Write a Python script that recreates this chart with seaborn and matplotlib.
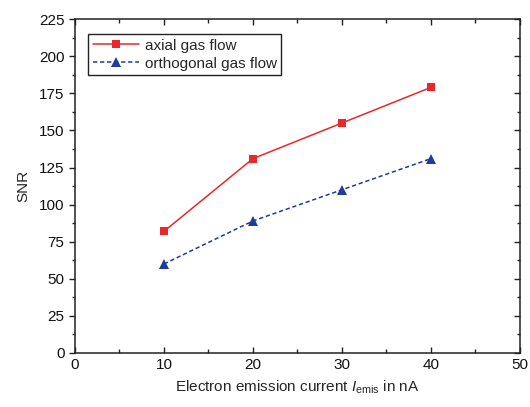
import pandas as pd
import matplotlib
matplotlib.use('Agg')
import matplotlib.pyplot as plt
import seaborn as sns
from matplotlib.ticker import MultipleLocator

# --- data ---
current_na = [10, 20, 30, 40]
snr_axial = [82, 131, 155, 179]
snr_orthogonal = [60, 89, 110, 131]
series_names = ['axial gas flow', 'orthogonal gas flow']

df = pd.DataFrame({
    'current': current_na * 2,
    'snr': snr_axial + snr_orthogonal,
    'flow': [series_names[0]] * len(current_na) + [series_names[1]] * len(current_na),
})

sns.set_style('ticks')
plt.rcParams['font.family'] = ['Liberation Sans', 'DejaVu Sans']
plt.rcParams['mathtext.fontset'] = 'custom'
plt.rcParams['mathtext.rm'] = 'Liberation Sans'
plt.rcParams['mathtext.it'] = 'Liberation Sans:italic'
plt.rcParams['font.size'] = 11

fig = plt.figure(figsize=(5.3, 4.07), dpi=100)
ax = fig.add_axes([0.1415, 0.1327, 0.981 - 0.1415, 0.953 - 0.1327])

palette = {series_names[0]: '#e8282b', series_names[1]: '#1f3c9c'}
sns.lineplot(data=df, x='current', y='snr', hue='flow', style='flow',
             palette=palette,
             markers={series_names[0]: 's', series_names[1]: '^'},
             dashes={series_names[0]: '', series_names[1]: (2.8, 1.8)},
             markersize=5.5, markeredgewidth=0, linewidth=1.1, ax=ax)
# triangles look smaller than squares at equal size
ax.lines[1].set_markersize(7)

ax.set_xlim(0, 50)
ax.set_ylim(0, 225)
ax.xaxis.set_major_locator(MultipleLocator(10))
ax.xaxis.set_minor_locator(MultipleLocator(5))
ax.yaxis.set_major_locator(MultipleLocator(25))
ax.yaxis.set_minor_locator(MultipleLocator(12.5))

for s in ax.spines.values():
    s.set_linewidth(1.1)
    s.set_color('#222222')

ax.tick_params(axis='x', which='both', direction='in', top=True, labelsize=11, width=1.0, colors='#222222')
ax.tick_params(axis='x', which='major', length=4)
ax.tick_params(axis='x', which='minor', length=3)
ax.tick_params(axis='y', which='both', direction='out', left=True, labelsize=11, width=1.0, colors='#222222')
ax.tick_params(axis='y', which='major', length=4)
ax.tick_params(axis='y', which='minor', length=2)
ax.tick_params(axis='y', which='both', right=True)
for t in ax.yaxis.get_ticklines(minor=False)[1::2] + ax.yaxis.get_ticklines(minor=True)[1::2]:
    t.set_marker(0)  # right-side ticks point inward
ax.tick_params(axis='both', labelcolor='#111111')

ax.set_xlabel(r'Electron emission current $I_{\mathrm{emis}}$ in nA', fontsize=11, labelpad=5)
ax.set_ylabel('SNR', fontsize=11, labelpad=6)

leg = ax.legend(loc='upper left', bbox_to_anchor=(0.03, 0.955), frameon=True,
                fancybox=False, edgecolor='#222222', framealpha=1,
                fontsize=11, handlelength=3.0, borderpad=0.3, labelspacing=0.25,
                handletextpad=0.4, borderaxespad=0)
leg.get_frame().set_linewidth(1.0)
leg.legend_handles[1].set_markersize(7)

fig.savefig('out.png', dpi=100)
